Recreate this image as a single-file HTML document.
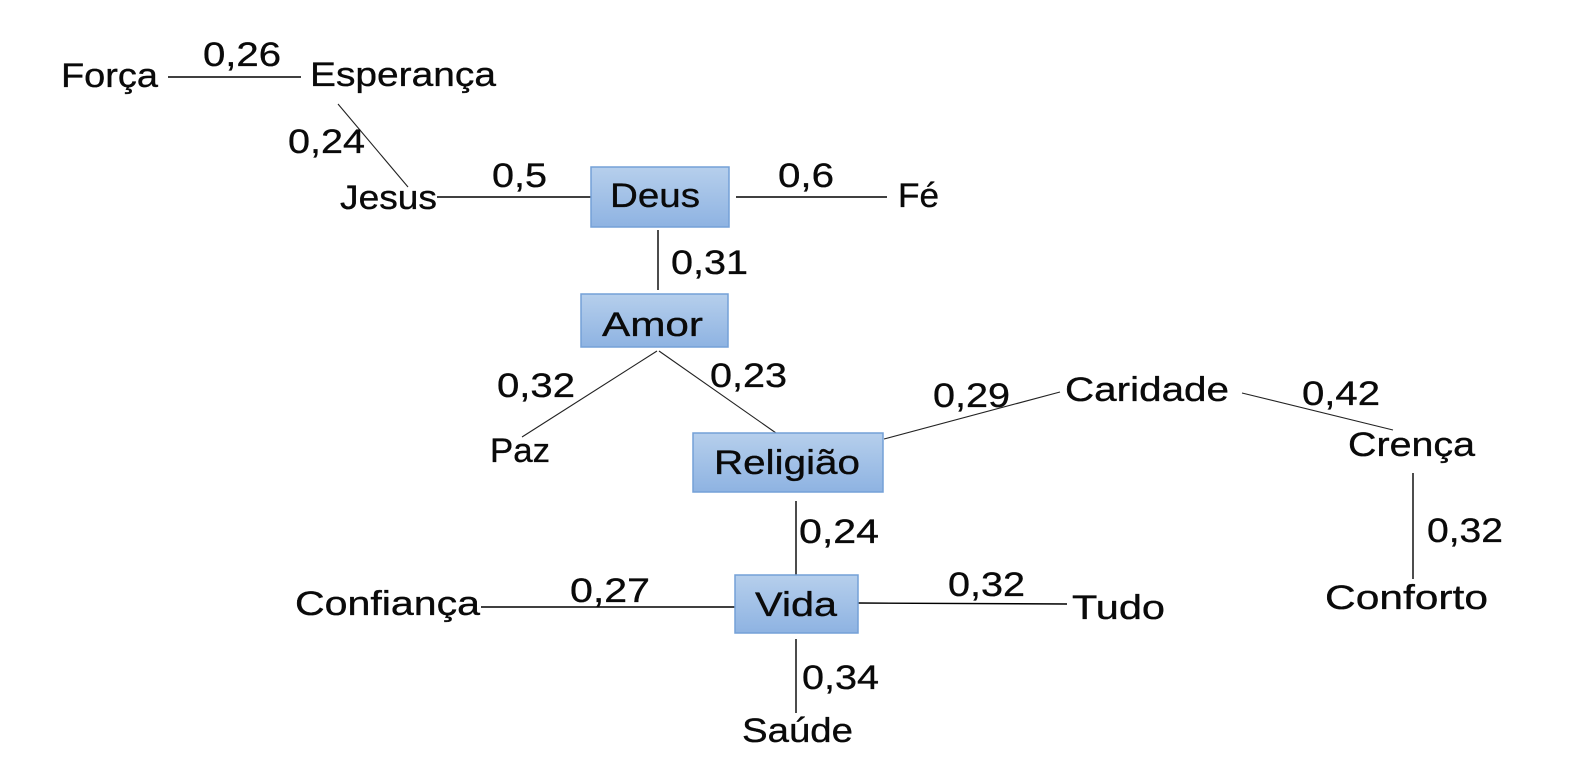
<!DOCTYPE html>
<html>
<head>
<meta charset="utf-8">
<style>
  html, body { margin: 0; padding: 0; background: #ffffff; }
  body { width: 1575px; height: 766px; overflow: hidden; }
  svg { display: block; }
  text { font-family: "Liberation Sans", "DejaVu Sans", sans-serif; font-size: 34px; fill: #0a0a0a; stroke: #0a0a0a; stroke-width: 0.35px; }
</style>
</head>
<body>
<svg width="1575" height="766" viewBox="0 0 1575 766" xmlns="http://www.w3.org/2000/svg">
  <defs>
    <linearGradient id="g" x1="0" y1="0" x2="0" y2="1">
      <stop offset="0" stop-color="#b6cfec"/>
      <stop offset="1" stop-color="#8eb3e2"/>
    </linearGradient>
  </defs>

  <!-- connectors -->
  <g stroke="#000" stroke-width="1.4" fill="none">
    <line x1="168" y1="77" x2="301" y2="77"/>
    <line x1="437" y1="197" x2="591" y2="197"/>
    <line x1="736" y1="197" x2="887" y2="197"/>
    <line x1="658" y1="230" x2="658" y2="290"/>
    <line x1="796" y1="501" x2="796" y2="575"/>
    <line x1="481" y1="607" x2="735" y2="607"/>
    <line x1="858" y1="603" x2="1067" y2="604"/>
    <line x1="796" y1="639" x2="796" y2="713"/>
    <line x1="1413" y1="473" x2="1413" y2="579"/>
  </g>
  <g stroke="#222" stroke-width="1.1" fill="none">
    <line x1="338" y1="104" x2="408" y2="187"/>
    <line x1="657" y1="351" x2="522" y2="437"/>
    <line x1="659" y1="351" x2="776" y2="433"/>
    <line x1="884" y1="439" x2="1060" y2="392"/>
    <line x1="1242" y1="393" x2="1393" y2="430"/>
  </g>

  <!-- boxes -->
  <g fill="url(#g)" stroke="#74a0d7" stroke-width="1.5">
    <rect x="591" y="167" width="138" height="60"/>
    <rect x="581" y="294" width="147" height="53"/>
    <rect x="693" y="433" width="190" height="59"/>
    <rect x="735" y="575" width="123" height="58"/>
  </g>

  <!-- labels -->
  <text x="61" y="87" textLength="97" lengthAdjust="spacingAndGlyphs">Força</text>
  <text x="203" y="66" textLength="78" lengthAdjust="spacingAndGlyphs">0,26</text>
  <text x="310" y="86" textLength="186" lengthAdjust="spacingAndGlyphs">Esperança</text>
  <text x="288" y="153" textLength="77" lengthAdjust="spacingAndGlyphs">0,24</text>
  <text x="340" y="209" textLength="97" lengthAdjust="spacingAndGlyphs">Jesus</text>
  <text x="492" y="187" textLength="55" lengthAdjust="spacingAndGlyphs">0,5</text>
  <text x="610" y="207" textLength="90" lengthAdjust="spacingAndGlyphs">Deus</text>
  <text x="778" y="187" textLength="56" lengthAdjust="spacingAndGlyphs">0,6</text>
  <text x="898" y="207" textLength="41" lengthAdjust="spacingAndGlyphs">Fé</text>
  <text x="671" y="274" textLength="77" lengthAdjust="spacingAndGlyphs">0,31</text>
  <text x="602" y="336" textLength="101" lengthAdjust="spacingAndGlyphs">Amor</text>
  <text x="497" y="397" textLength="78" lengthAdjust="spacingAndGlyphs">0,32</text>
  <text x="710" y="387" textLength="77" lengthAdjust="spacingAndGlyphs">0,23</text>
  <text x="490" y="462" textLength="60" lengthAdjust="spacingAndGlyphs">Paz</text>
  <text x="714" y="474" textLength="146" lengthAdjust="spacingAndGlyphs">Religião</text>
  <text x="933" y="407" textLength="77" lengthAdjust="spacingAndGlyphs">0,29</text>
  <text x="1065" y="401" textLength="164" lengthAdjust="spacingAndGlyphs">Caridade</text>
  <text x="1302" y="405" textLength="78" lengthAdjust="spacingAndGlyphs">0,42</text>
  <text x="1348" y="456" textLength="127" lengthAdjust="spacingAndGlyphs">Crença</text>
  <text x="1427" y="542" textLength="76" lengthAdjust="spacingAndGlyphs">0,32</text>
  <text x="1325" y="609" textLength="163" lengthAdjust="spacingAndGlyphs">Conforto</text>
  <text x="799" y="543" textLength="80" lengthAdjust="spacingAndGlyphs">0,24</text>
  <text x="755" y="616" textLength="82" lengthAdjust="spacingAndGlyphs">Vida</text>
  <text x="295" y="615" textLength="185" lengthAdjust="spacingAndGlyphs">Confiança</text>
  <text x="570" y="602" textLength="80" lengthAdjust="spacingAndGlyphs">0,27</text>
  <text x="948" y="596" textLength="77" lengthAdjust="spacingAndGlyphs">0,32</text>
  <text x="1072" y="619" textLength="93" lengthAdjust="spacingAndGlyphs">Tudo</text>
  <text x="802" y="689" textLength="77" lengthAdjust="spacingAndGlyphs">0,34</text>
  <text x="742" y="742" textLength="111" lengthAdjust="spacingAndGlyphs">Saúde</text>
</svg>
</body>
</html>
